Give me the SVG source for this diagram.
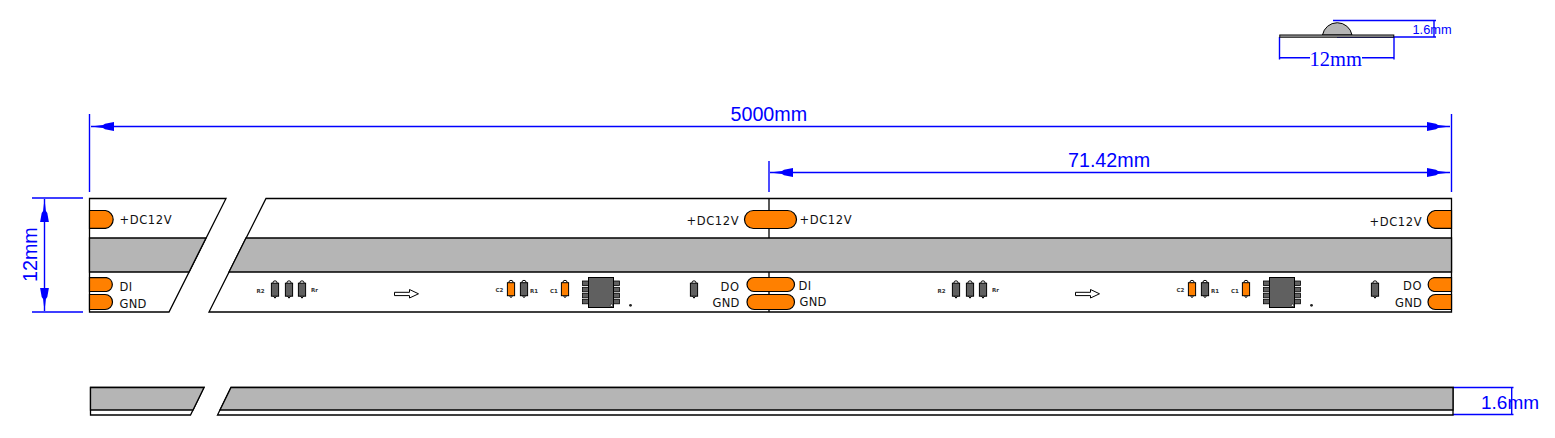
<svg xmlns="http://www.w3.org/2000/svg" xmlns:xlink="http://www.w3.org/1999/xlink" width="1555" height="438" viewBox="0 0 1555 438">
<style>
.ln{fill:none;stroke:#000;stroke-width:1.3}
.gray{fill:#b5b5b5;stroke:#000;stroke-width:1.3}
.pad{fill:#ff8000;stroke:#000;stroke-width:1.2}
.dim{fill:none;stroke:#0000ff;stroke-width:1.4}
.lab{font-family:"DejaVu Sans",sans-serif;font-size:11.5px;fill:#111;letter-spacing:.3px}
.wide{letter-spacing:.6px}
.tiny{font-family:"DejaVu Sans",sans-serif;font-size:5.5px;font-weight:bold;fill:#333}
.bl{font-family:"Liberation Sans",Arial,sans-serif;font-size:19.7px;fill:#0000ff}
.blser{font-family:"Liberation Serif","Times New Roman",serif;font-size:20.5px;fill:#0000ff}
</style>
<defs>
<marker id="ah" markerUnits="userSpaceOnUse" markerWidth="24" markerHeight="12" refX="24" refY="6" orient="auto-start-reverse" viewBox="0 0 24 12"><path d="M24,6 L12,4.6 L10,3.2 L1,1.6 V10.4 L10,8.8 L12,7.4 Z" fill="#0000ff"/></marker>
<g id="part"><path d="M-2.2,-6.5 Q-2,-8.7 0,-8.7 Q2,-8.7 2.2,-6.5 M-1.5,6.8 L0,8.7 L1.5,6.8" fill="#fff" stroke="#000" stroke-width="1"/><rect x="-3.6" y="-6.3" width="7.2" height="13" fill="#606060" stroke="#000" stroke-width="1"/></g>
<g id="partO"><path d="M-2.2,-6.5 Q-2,-8.7 0,-8.7 Q2,-8.7 2.2,-6.5 M-1.5,6.8 L0,8.7 L1.5,6.8" fill="#fff" stroke="#000" stroke-width="1"/><rect x="-3.6" y="-6.3" width="7.2" height="13" fill="#ff8000" stroke="#000" stroke-width="1"/></g>
<g id="module">
<use xlink:href="#part" href="#part" x="275" y="289.5"/>
<use xlink:href="#part" href="#part" x="289" y="289.5"/>
<use xlink:href="#part" href="#part" x="302" y="289.5"/>
<text class="tiny" x="256.5" y="292.5">R2</text>
<text class="tiny" x="311" y="292">Rr</text>
<path d="M394.5,292.3 H409.5 V289.5 L418.5,293.8 L409.5,298 V295.6 H394.5 Z" fill="#fff" stroke="#000" stroke-width="1"/>
<text class="tiny" x="495.5" y="292">C2</text>
<use xlink:href="#partO" href="#partO" x="511" y="289"/>
<use xlink:href="#part" href="#part" x="524" y="289"/>
<text class="tiny" x="530" y="292.5">R1</text>
<text class="tiny" x="550" y="292.5">C1</text>
<use xlink:href="#partO" href="#partO" x="565" y="289"/>
<g fill="#606060" stroke="#000" stroke-width=".8">
<rect x="582.5" y="281" width="6" height="4.5"/><rect x="582.5" y="287.3" width="6" height="4.5"/><rect x="582.5" y="293.3" width="6" height="4.5"/><rect x="582.5" y="299.3" width="6" height="4.5"/>
<rect x="613.5" y="281" width="6" height="4.5"/><rect x="613.5" y="287.3" width="6" height="4.5"/><rect x="613.5" y="293.3" width="6" height="4.5"/><rect x="613.5" y="299.3" width="6" height="4.5"/>
</g>
<rect x="588.5" y="277.5" width="25" height="30" fill="#606060" stroke="#000" stroke-width="1"/>
<circle cx="611.5" cy="305.3" r="1.2" fill="#fff" stroke="#000" stroke-width=".6"/>
<circle cx="630.5" cy="305.3" r="1.4" fill="#222"/>
<use xlink:href="#part" href="#part" x="694" y="289.5"/>
</g>
</defs>

<g id="connectors">
<path class="dim" d="M89.5,114 V192 M1451.5,114 V192 M769,161 V192 M32,198 H83 M32,312 H83"/>
<line class="dim" x1="91" y1="126.5" x2="1450" y2="126.5" marker-start="url(#ah)" marker-end="url(#ah)"/>
<line class="dim" x1="770" y1="172.5" x2="1450" y2="172.5" marker-start="url(#ah)" marker-end="url(#ah)"/>
<line class="dim" x1="44.5" y1="199" x2="44.5" y2="311" marker-start="url(#ah)" marker-end="url(#ah)"/>
<path class="dim" d="M1333,20.5 H1434 V37 H1337 M1432,20.5 H1436 M1432,37 H1436"/>
<path class="dim" d="M1279.5,37 V58 M1394,37 V58 M1279.5,57.7 H1310 M1362,57.7 H1394 M1279.5,56 V59.5 M1394,56 V59.5"/>
<path class="dim" d="M1453,387.5 H1511.7 V414.5 H1453 M1509.5,387.5 H1513.5 M1509.5,414.5 H1513.5"/>
</g>

<g id="section-top">
<path d="M1322.5,35 A15,15 0 0 1 1352,35 Z" fill="#b5b5b5" stroke="#000" stroke-width="1"/>
<rect x="1279.8" y="35" width="114" height="2.2" fill="#b5b5b5" stroke="#000" stroke-width="1"/>
</g>

<g id="strip-left">
<path d="M89.5,198.5 H226 L169,312 H89.5 Z" fill="#fff" stroke="#000" stroke-width="1.3"/>
<path class="gray" d="M89.5,238 H206 L189,272 H89.5 Z"/>
</g>
<g id="strip-main">
<path d="M266,198.5 H1451.5 V312 H209 Z" fill="#fff" stroke="#000" stroke-width="1.3"/>
<path class="gray" d="M246,238 H1451.5 V272 H229 Z"/>
<path class="ln" d="M769,198.5 V238 M769,272 V312"/>
</g>

<g id="pads">
<path class="pad" d="M89.5,210.5 H105.5 A9,9 0 0 1 105.5,228.3 H89.5 Z"/>
<path class="pad" d="M89.5,277.7 H106.5 A7,7 0 0 1 106.5,291.5 H89.5 Z"/>
<path class="pad" d="M89.5,294.5 H105 A7.5,7.5 0 0 1 105,309.5 H89.5 Z"/>
<rect class="pad" x="744.5" y="210.5" width="52" height="18" rx="9"/>
<rect class="pad" x="747" y="277.5" width="47.5" height="14" rx="7"/>
<rect class="pad" x="747" y="294.5" width="47.5" height="15" rx="7.5"/>
<path class="pad" d="M1451.5,210.5 H1435 A9,9 0 0 0 1435,228.3 H1451.5 Z"/>
<path class="pad" d="M1451.5,277.7 H1434 A7,7 0 0 0 1434,291.5 H1451.5 Z"/>
<path class="pad" d="M1451.5,294.5 H1435.5 A7.5,7.5 0 0 0 1435.5,309.5 H1451.5 Z"/>
</g>

<g id="module-1"><use xlink:href="#module" href="#module"/></g>
<g id="module-2"><use xlink:href="#module" href="#module" x="681"/></g>

<g id="pad-labels">
<text class="lab wide" x="119.5" y="224">+DC12V</text>
<text class="lab" x="119.5" y="291">DI</text>
<text class="lab" x="119.5" y="307.5">GND</text>
<text class="lab wide" x="686.5" y="225">+DC12V</text>
<text class="lab wide" x="720.5" y="291">DO</text>
<text class="lab" x="712.5" y="307">GND</text>
<text class="lab wide" x="799.5" y="224">+DC12V</text>
<text class="lab" x="798.5" y="290">DI</text>
<text class="lab" x="799.5" y="306">GND</text>
<text class="lab wide" x="1369.5" y="226">+DC12V</text>
<text class="lab wide" x="1403" y="290">DO</text>
<text class="lab" x="1395" y="306.5">GND</text>
</g>

<g id="strip-side">
<path d="M90.5,387.5 H204 L190.5,415 H90.5 Z" fill="#fff" stroke="#000" stroke-width="1.3"/>
<path class="gray" d="M90.5,387.5 H204 L193,410 H90.5 Z"/>
<path d="M231,387.5 H1453 V415 H217.5 Z" fill="#fff" stroke="#000" stroke-width="1.3"/>
<path class="gray" d="M231,387.5 H1453 V410 H220 Z"/>
</g>

<g id="dim-labels">
<text class="bl" x="730.5" y="120.5">5000mm</text>
<text class="bl" x="1068" y="167">71.42mm</text>
<text class="bl" transform="translate(37,282) rotate(-90)">12mm</text>
<text class="bl" style="font-size:19px" x="1481" y="408.5">1.6mm</text>
<text class="bl" style="font-size:12.8px" x="1412.5" y="34">1.6mm</text>
<text class="blser" x="1309.5" y="65.5">12mm</text>
</g>
</svg>
